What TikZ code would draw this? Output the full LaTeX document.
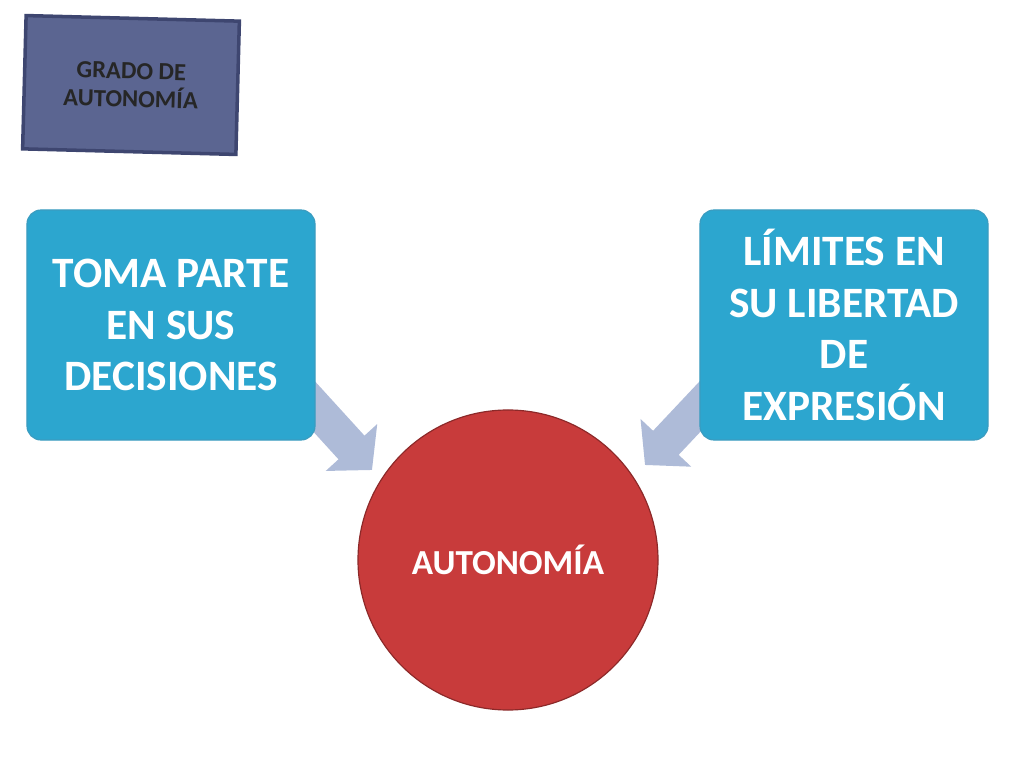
\documentclass[tikz,border=0pt]{standalone}
\usepackage{fontspec}
\setmainfont{Carlito}
\usetikzlibrary{arrows.meta,shapes.geometric,positioning}
\definecolor{boxblue}{HTML}{2CA6CF}
\definecolor{boxedge}{HTML}{3A9CC0}
\definecolor{circred}{HTML}{C83B3B}
\definecolor{arrowgrey}{HTML}{AEBBD8}
\definecolor{titlefill}{HTML}{5B6591}
\definecolor{titleedge}{HTML}{3E4670}
\begin{document}
\begin{tikzpicture}[x=0.03cm,y=-0.03cm,
    infobox/.style={rectangle, rounded corners=12pt, draw=boxedge, line width=1pt, fill=boxblue, minimum width=8.64cm, minimum height=6.9cm, align=center, text=white, font=\bfseries\fontsize{37}{44}\selectfont},
    centre/.style={circle, draw=circred!70!black, line width=1pt, fill=circred, minimum size=9cm, text=white, font=\bfseries\fontsize{30}{34}\selectfont},
    blockarrow/.style={-{Triangle[length=26pt,width=58pt]}, line width=30pt, arrowgrey}
]
\useasboundingbox (0,0) rectangle (1024,768);

% Arrows behind the boxes
\coordinate (lstart) at (290,380);
\coordinate (ltip) at (372,470);
\coordinate (rstart) at (725,380);
\coordinate (rtip) at (645,465);
\draw[blockarrow] (lstart) -- (ltip);
\draw[blockarrow] (rstart) -- (rtip);

% Title
\node[rectangle, draw=titleedge, line width=3pt, fill=titlefill, minimum width=6.4cm, minimum height=4cm, rotate=-1.5, align=center, text=black!85, font=\bfseries\fontsize{21}{24}\selectfont] (title) at (131,85) {GRADO DE\\AUTONOMÍA};

% Boxes
\node[infobox] (decide) at (171,325) {TOMA PARTE\\EN SUS\\DECISIONES};
\node[infobox] (limits) at (844,325) {LÍMITES EN\\SU LIBERTAD\\DE\\EXPRESIÓN};
\node[centre] (auto) at (508,560) {AUTONOMÍA};
\end{tikzpicture}
\end{document}
